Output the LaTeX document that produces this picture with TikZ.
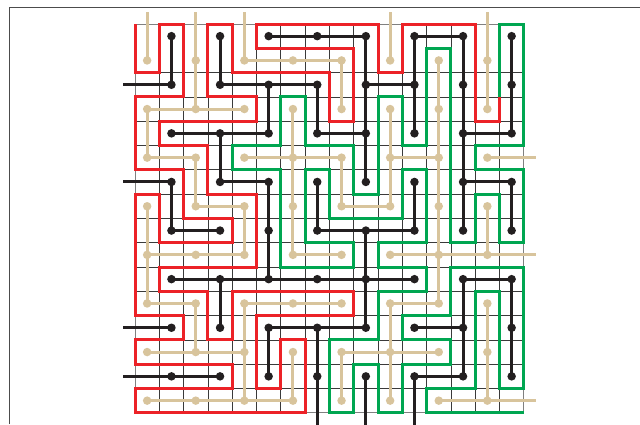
\documentclass[tikz,border=0pt]{standalone}
\usetikzlibrary{calc}
\definecolor{wallred}{HTML}{EC2227}
\definecolor{wallgreen}{HTML}{00A651}
\definecolor{tanc}{HTML}{D8C49C}
\definecolor{blk}{HTML}{231F20}
\definecolor{gridc}{HTML}{3A3A3A}
\tikzset{
 bdot/.style={circle,fill=blk,inner sep=0pt,minimum size=8.5pt},
 tdot/.style={circle,fill=tanc,inner sep=0pt,minimum size=8.5pt},
 bline/.style={draw=blk,line width=3pt},
 tline/.style={draw=tanc,line width=3pt},
 redwall/.style={draw=wallred,line width=3pt,line join=miter},
 greenwall/.style={draw=wallgreen,line width=3pt,line join=miter},
 gridline/.style={draw=gridc,line width=0.7pt},
 bordline/.style={draw=gray,line width=0.8pt},
}
\begin{document}
\begin{tikzpicture}[x=1pt,y=-1pt]
\useasboundingbox (0,0) rectangle (640,424);
\fill[white] (0,0) rectangle (640,424);
\draw[gray!60!black,line width=1pt] (9.5,424) -- (9.5,7) -- (640,7);
% grid vertices
\foreach \k in {0,...,16}{\foreach \m in {0,...,16}{\coordinate (g-\k-\m) at ({135+24.3*\k},{24+24.3*\m});}}
% tree node positions
\foreach \i in {0,...,7}{\foreach \j in {0,...,7}{
  \coordinate (b-\i-\j) at ({171.45+48.6*\i},{36.15+48.6*\j});
  \coordinate (t-\i-\j) at ({147.15+48.6*\i},{60.45+48.6*\j});
}}
% thin grid
\foreach \k in {1,...,15}{\draw[gridline] (g-\k-0) -- (g-\k-16);}
\foreach \m in {2,...,15}{\draw[gridline] (g-0-\m) -- (g-16-\m);}
\draw[bordline] (g-0-0) rectangle (g-16-16);
% exits
\foreach \j in {1,3,6,7}{\coordinate (bxl-\j) at ($(b-0-\j)+(-48.6,0)$);}
\foreach \i in {3,4,5}{\coordinate (bxb-\i) at ($(b-\i-7)+(0,50)$);}
\foreach \i in {0,1,2,5,7}{\coordinate (txt-\i) at ($(t-\i-0)+(0,-48.6)$);}
\foreach \j in {2,4,7}{\coordinate (txr-\j) at ($(t-7-\j)+(48.6,0)$);}
% walls
\draw[redwall] (g-0-0)--(g-0-2)--(g-1-2)--(g-1-0)--(g-2-0)--(g-2-3)--(g-0-3)--(g-0-6)--(g-2-6)--(g-2-8)--(g-4-8)--(g-4-9)--(g-1-9)--(g-1-7)--(g-0-7)--(g-0-12)--(g-2-12)--(g-2-13)--(g-0-13)--(g-0-14)--(g-4-14)--(g-4-15)--(g-0-15)--(g-0-16)--(g-7-16)--(g-7-13)--(g-6-13)--(g-6-15)--(g-5-15)--(g-5-12)--(g-9-12)--(g-9-11)--(g-4-11)--(g-4-13)--(g-3-13)--(g-3-11)--(g-1-11)--(g-1-10)--(g-5-10)--(g-5-7)--(g-3-7)--(g-3-5)--(g-1-5)--(g-1-4)--(g-5-4)--(g-5-3)--(g-3-3)--(g-3-0)--(g-4-0)--(g-4-2)--(g-8-2)--(g-8-4)--(g-9-4)--(g-9-1)--(g-5-1)--(g-5-0)--(g-10-0)--(g-10-2)--(g-11-2)--(g-11-0)--(g-14-0)--(g-14-4)--(g-15-4)--(g-15-3);
\draw[greenwall] (g-15-3)--(g-15-0)--(g-16-0)--(g-16-5)--(g-14-5)--(g-14-6)--(g-16-6)--(g-16-9)--(g-15-9)--(g-15-7)--(g-14-7)--(g-14-9)--(g-13-9)--(g-13-1)--(g-12-1)--(g-12-5)--(g-11-5)--(g-11-3)--(g-10-3)--(g-10-7)--(g-9-7)--(g-9-5)--(g-7-5)--(g-7-3)--(g-6-3)--(g-6-5)--(g-4-5)--(g-4-6)--(g-6-6)--(g-6-10)--(g-9-10)--(g-9-9)--(g-7-9)--(g-7-6)--(g-8-6)--(g-8-8)--(g-11-8)--(g-11-6)--(g-12-6)--(g-12-9)--(g-10-9)--(g-10-10)--(g-12-10)--(g-12-11)--(g-10-11)--(g-10-13)--(g-8-13)--(g-8-16)--(g-9-16)--(g-9-14)--(g-10-14)--(g-10-16)--(g-11-16)--(g-11-14)--(g-13-14)--(g-13-13)--(g-11-13)--(g-11-12)--(g-13-12)--(g-13-10)--(g-16-10)--(g-16-15)--(g-15-15)--(g-15-11)--(g-14-11)--(g-14-15)--(g-12-15)--(g-12-16)--(g-16-16);
% tan tree
\foreach \a/\b in {0-1/0-2,0-3/0-4,0-4/0-5,1-0/1-1,1-2/1-3,1-5/1-6,2-3/2-4,2-5/2-6,2-6/2-7,3-1/3-2,3-2/3-3,3-3/3-4,3-6/3-7,4-0/4-1,4-2/4-3,4-6/4-7,5-1/5-2,5-2/5-3,5-5/5-6,5-6/5-7,6-0/6-1,6-1/6-2,6-2/6-3,6-3/6-4,6-4/6-5,7-0/7-1,7-3/7-4,7-5/7-6,7-6/7-7,2-0/3-0,3-0/4-0,0-1/1-1,1-1/2-1,0-2/1-2,2-2/3-2,3-2/4-2,5-2/6-2,1-3/2-3,4-3/5-3,0-4/1-4,1-4/2-4,3-4/4-4,5-4/6-4,6-4/7-4,0-5/1-5,2-5/3-5,3-5/4-5,5-5/6-5,0-6/1-6,1-6/2-6,4-6/5-6,5-6/6-6,0-7/1-7,1-7/2-7,2-7/3-7,6-7/7-7}{\draw[tline] (t-\a) -- (t-\b);}
\foreach \i in {0,1,2,5,7}{\draw[tline] (t-\i-0) -- (txt-\i);}
\foreach \j in {2,4,7}{\draw[tline] (t-7-\j) -- (txr-\j);}
% black tree
\foreach \a/\b in {0-0/0-1,0-3/0-4,1-0/1-1,1-2/1-3,1-5/1-6,2-1/2-2,2-3/2-4,2-4/2-5,2-6/2-7,3-1/3-2,3-3/3-4,3-6/3-7,4-0/4-1,4-1/4-2,4-2/4-3,4-4/4-5,4-5/4-6,5-0/5-1,5-1/5-2,5-3/5-4,6-0/6-1,6-1/6-2,6-2/6-3,6-3/6-4,6-5/6-6,6-6/6-7,7-0/7-1,7-1/7-2,7-3/7-4,7-5/7-6,7-6/7-7,2-0/3-0,3-0/4-0,5-0/6-0,1-1/2-1,2-1/3-1,4-1/5-1,0-2/1-2,1-2/2-2,3-2/4-2,6-2/7-2,1-3/2-3,6-3/7-3,0-4/1-4,3-4/4-4,4-4/5-4,0-5/1-5,1-5/2-5,2-5/3-5,3-5/4-5,4-5/5-5,6-5/7-5,2-6/3-6,3-6/4-6,5-6/6-6,0-7/1-7,5-7/6-7}{\draw[bline] (b-\a) -- (b-\b);}
\foreach \j in {1,3,6,7}{\draw[bline] (b-0-\j) -- (bxl-\j);}
\foreach \i in {3,4,5}{\draw[bline] (b-\i-7) -- (bxb-\i);}
% dots
\foreach \i in {0,...,7}{\foreach \j in {0,...,7}{
  \node[tdot] (tn-\i-\j) at (t-\i-\j) {};
  \node[bdot] (bn-\i-\j) at (b-\i-\j) {};
}}
\end{tikzpicture}
\end{document}
